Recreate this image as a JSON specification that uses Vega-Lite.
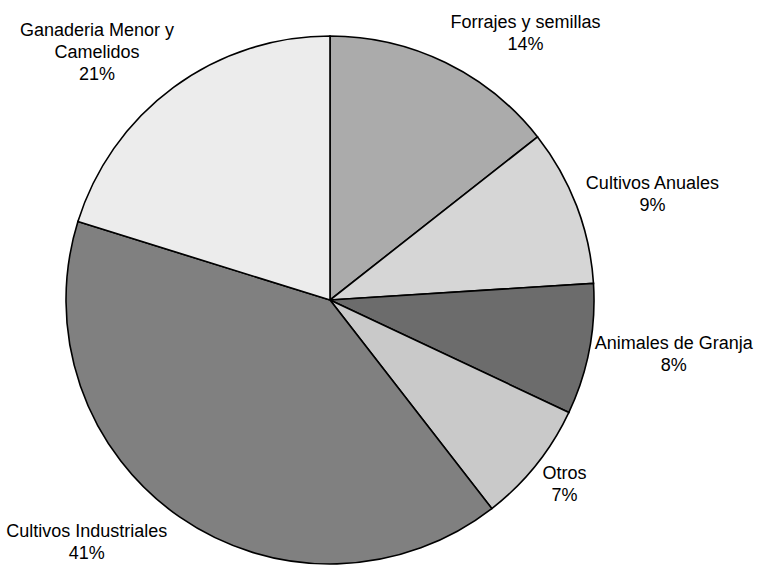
{
  "$schema": "https://vega.github.io/schema/vega-lite/v6.json",
  "width": 528,
  "height": 528,
  "autosize": {"type": "none"},
  "padding": {"left": 66, "top": 36, "right": 171, "bottom": 7},
  "background": "white",
  "config": {"view": {"stroke": null}},
  "data": {
    "values": [
      {"category": "Forrajes y semillas", "value": 14.4, "pct": "14%", "order": 1, "label": "Forrajes y semillas\n14%"},
      {"category": "Cultivos Anuales", "value": 9.6, "pct": "9%", "order": 2, "label": "Cultivos Anuales\n9%"},
      {"category": "Animales de Granja", "value": 8.0, "pct": "8%", "order": 3, "label": "Animales de Granja\n8%"},
      {"category": "Otros", "value": 7.5, "pct": "7%", "order": 4, "label": "Otros\n7%"},
      {"category": "Cultivos Industriales", "value": 40.3, "pct": "41%", "order": 5, "label": "Cultivos Industriales\n41%"},
      {"category": "Ganaderia Menor y Camelidos", "value": 20.2, "pct": "21%", "order": 6, "label": "Ganaderia Menor y\nCamelidos\n21%"}
    ]
  },
  "encoding": {
    "theta": {"field": "value", "type": "quantitative", "stack": true},
    "order": {"field": "order", "type": "quantitative"}
  },
  "layer": [
    {
      "mark": {"type": "arc", "stroke": "black", "strokeWidth": 1.6, "outerRadius": 264},
      "encoding": {
        "color": {
          "field": "category",
          "type": "nominal",
          "scale": {
            "domain": ["Forrajes y semillas", "Cultivos Anuales", "Animales de Granja", "Otros", "Cultivos Industriales", "Ganaderia Menor y Camelidos"],
            "range": ["#ababab", "#d6d6d6", "#6c6c6c", "#c9c9c9", "#808080", "#ececec"]
          },
          "legend": null
        }
      }
    },
    {
      "mark": {
        "type": "text",
        "radius": 274,
        "font": "Liberation Sans",
        "fontSize": 18,
        "lineBreak": "\n",
        "lineHeight": 22,
        "align": "center",
        "baseline": "middle",
        "color": "black",
        "dx": {"expr": "clamp(2.2*sin(PI*(datum.value_start+datum.value_end)/100),-1,1)*4.15*max(length(split(datum.label+'\\n\\n','\\n')[0]),length(split(datum.label+'\\n\\n','\\n')[1]),length(split(datum.label+'\\n\\n','\\n')[2]))"},
        "dy": {"expr": "-cos(PI*(datum.value_start+datum.value_end)/100)*11*length(split(datum.label,'\\n'))-11*(length(split(datum.label,'\\n'))-1)"}
      },
      "encoding": {
        "text": {"field": "label", "type": "nominal"}
      }
    }
  ]
}
